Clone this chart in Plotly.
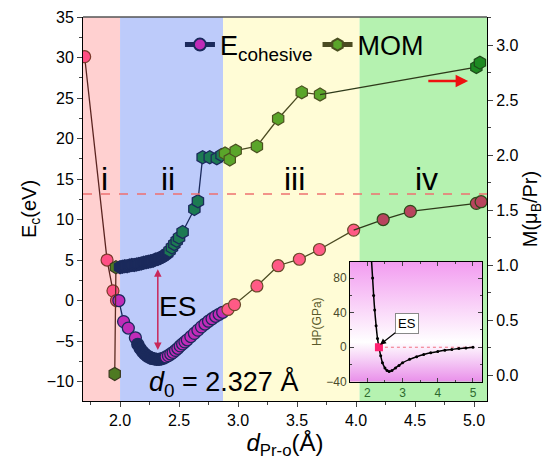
import plotly.graph_objects as go

# ---------------- data ----------------
ec_x = [1.70, 1.89, 1.94, 1.97, 1.99, 2.03, 2.07, 2.13,
        2.15, 2.17, 2.19, 2.21, 2.23, 2.25, 2.27, 2.29, 2.31, 2.33, 2.35, 2.37,
        2.39, 2.41, 2.43, 2.45, 2.47, 2.49, 2.51, 2.53, 2.55, 2.57, 2.60, 2.63,
        2.66, 2.69, 2.72, 2.75, 2.78, 2.81, 2.84, 2.87,
        2.915, 2.97, 3.16, 3.34, 3.52, 3.69, 3.98, 4.23, 4.46, 5.02, 5.06]
ec_y = [30.1, 5.0, 1.2, 0.0, 0.0, -2.6, -3.4, -4.6,
        -5.4, -5.9, -6.3, -6.6, -6.85, -7.0, -7.15, -7.2, -7.25, -7.25, -7.2, -7.1,
        -6.95, -6.8, -6.6, -6.4, -6.15, -5.9, -5.6, -5.35, -5.1, -4.85, -4.45, -4.05,
        -3.65, -3.25, -2.9, -2.55, -2.25, -1.95, -1.7, -1.45,
        -1.1, -0.5, 1.8, 4.3, 5.1, 6.3, 8.7, 10.0, 11.0, 12.0, 12.2]

mom_x = [1.955, 1.965, 2.00, 2.02, 2.04, 2.06, 2.08, 2.10, 2.12, 2.14, 2.16, 2.18,
         2.20, 2.22, 2.24, 2.26, 2.28, 2.30, 2.32, 2.34, 2.36, 2.38, 2.40,
         2.42, 2.44, 2.46, 2.48, 2.50, 2.53, 2.63, 2.66, 2.70, 2.76, 2.82, 2.86,
         2.89, 2.93, 2.98, 3.16, 3.34, 3.54, 3.695, 5.02, 5.05]
mom_y = [0.01, 0.98, 0.98, 0.985, 0.99, 0.99, 0.995, 1.0, 1.0, 1.005, 1.01, 1.015,
         1.02, 1.025, 1.03, 1.035, 1.04, 1.05, 1.055, 1.065, 1.075, 1.09, 1.105,
         1.13, 1.16, 1.19, 1.22, 1.25, 1.30, 1.51, 1.58, 1.98, 1.98, 1.97, 2.0,
         2.015, 1.96, 2.04, 2.08, 2.33, 2.57, 2.55, 2.80, 2.84]

hp_x = [2.12, 2.15, 2.18, 2.21, 2.25, 2.29, 2.33, 2.38, 2.43, 2.50, 2.56, 2.62,
        2.70, 2.80, 2.90, 3.00, 3.20, 3.40, 3.60, 3.80, 4.00, 4.20, 4.40, 4.60,
        4.80, 5.00]
hp_y = [100, 80, 60, 43, 25, 10, 0, -10, -18, -24, -27, -28,
        -27, -24, -21, -18, -14, -11, -8.5, -6.5, -5, -3.5, -2.5, -1.5,
        -0.8, 0]

region_edges = [1.686, 2.0, 2.873, 4.03, 5.11]
region_colors = ["#FFD0D0", "#BDCBFA", "#FFFCD6", "#B5F2B0"]
region_labels = ["i", "ii", "iii", "iv"]
region_label_x = [1.87, 2.41, 3.48, 4.60]

x_range = [1.686, 5.11]
y_range = [-12.4, 35]
y2_range = [-0.236, 3.255]
inset_x_range = [1.51, 5.26]
inset_y_range = [-40, 99]

cut_level = 13.15
d0 = 2.327
es_hp_x = 2.33

FONT = "Liberation Sans, Arial, sans-serif"
NAVY = "#1B2A5C"

fig = go.Figure()

# background regions
for i in range(4):
    fig.add_shape(type="rect", xref="x", yref="paper", x0=region_edges[i], x1=region_edges[i + 1],
                  y0=0, y1=1, fillcolor=region_colors[i], line_width=0, layer="below")

# dashed red line
fig.add_shape(type="line", xref="paper", yref="y", x0=0, x1=1, y0=cut_level, y1=cut_level,
              line=dict(color="#EE7070", width=1.5, dash="dash"))


def split(xs, ys, lo, hi, extra_prev=True):
    idx = [i for i, v in enumerate(xs) if lo <= v < hi]
    if not idx:
        return [], []
    if extra_prev and idx[0] > 0:
        idx = [idx[0] - 1] + idx
    return [xs[i] for i in idx], [ys[i] for i in idx]


# ---- E cohesive ----
px_, py_ = split(ec_x, ec_y, 0, 1.985, extra_prev=False)
px_.append(ec_x[len(px_)]); py_.append(ec_y[len(py_)])
fig.add_trace(go.Scatter(x=px_[:-1], y=py_[:-1], mode="lines+markers", showlegend=False,
                         line=dict(color="#5A2420", width=1.3),
                         marker=dict(size=12, color="#FF4F84", line=dict(color="#7A3A2A", width=1.2))))
fig.add_trace(go.Scatter(x=px_[-2:], y=py_[-2:], mode="lines", showlegend=False,
                         line=dict(color=NAVY, width=1.3)))
bx, by = split(ec_x, ec_y, 1.985, 2.88, extra_prev=False)
bcol = [NAVY if 2.14 < v < 2.375 else "#C02CB8" for v in bx]
fig.add_trace(go.Scatter(x=bx, y=by, mode="lines+markers", showlegend=False,
                         line=dict(color=NAVY, width=1.3),
                         marker=dict(size=12, color=bcol, line=dict(color=NAVY, width=1.3))))
yx, yy = split(ec_x, ec_y, 2.88, 4.1)
fig.add_trace(go.Scatter(x=yx[:2], y=yy[:2], mode="lines", showlegend=False,
                         line=dict(color="#4B4B22", width=1.3)))
fig.add_trace(go.Scatter(x=yx[1:], y=yy[1:], mode="lines+markers", showlegend=False,
                         line=dict(color="#4B4B22", width=1.3),
                         marker=dict(size=12, color="#FF5A86", line=dict(color="#6A4A2A", width=1.2))))
gx, gy = split(ec_x, ec_y, 4.1, 9)
fig.add_trace(go.Scatter(x=gx, y=gy, mode="lines", showlegend=False,
                         line=dict(color="#2E3A1A", width=1.3)))
fig.add_trace(go.Scatter(x=gx[1:], y=gy[1:], mode="markers", showlegend=False,
                         marker=dict(size=12, color="#B8445E", line=dict(color="#2E4A1A", width=1.2))))

# ---- MOM ----
mx, my = split(mom_x, mom_y, 0, 1.99, extra_prev=False)
fig.add_trace(go.Scatter(x=mom_x[:len(mx) + 1], y=mom_y[:len(my) + 1], mode="lines", yaxis="y2",
                         showlegend=False, line=dict(color="#5A2A20", width=1.3)))
fig.add_trace(go.Scatter(x=mx, y=my, mode="markers", yaxis="y2", showlegend=False,
                         marker=dict(symbol="hexagon", size=13, color="#4E7A22",
                                     line=dict(color="#3A3A20", width=1.2))))
bmx, bmy = split(mom_x, mom_y, 1.99, 2.875, extra_prev=False)
bmcol = [NAVY if v <= 2.40 else "#1C7A52" for v in bmx]
fig.add_trace(go.Scatter(x=bmx, y=bmy, mode="lines+markers", yaxis="y2", showlegend=False,
                         line=dict(color=NAVY, width=1.3),
                         marker=dict(symbol="hexagon", size=13, color=bmcol,
                                     line=dict(color=NAVY, width=1.3))))
ymx, ymy = split(mom_x, mom_y, 2.875, 4.1)
fig.add_trace(go.Scatter(x=ymx[:2], y=ymy[:2], mode="lines", yaxis="y2", showlegend=False,
                         line=dict(color="#4B4B22", width=1.3)))
fig.add_trace(go.Scatter(x=ymx[1:], y=ymy[1:], mode="lines+markers", yaxis="y2", showlegend=False,
                         line=dict(color="#4B4B22", width=1.3),
                         marker=dict(symbol="hexagon", size=13, color="#5AA52A",
                                     line=dict(color="#4A5020", width=1.2))))
gmx, gmy = split(mom_x, mom_y, 4.1, 9)
fig.add_trace(go.Scatter(x=gmx, y=gmy, mode="lines", yaxis="y2", showlegend=False,
                         line=dict(color="#2E3A1A", width=1.3)))
fig.add_trace(go.Scatter(x=gmx[1:], y=gmy[1:], mode="markers", yaxis="y2", showlegend=False,
                         marker=dict(symbol="hexagon", size=13, color="#1E8A22",
                                     line=dict(color="#1E4A1A", width=1.2))))

# legend-only entries
fig.add_trace(go.Scatter(x=[None], y=[None], mode="lines+markers", name="E<sub>cohesive</sub>",
                         line=dict(color=NAVY, width=1.3),
                         marker=dict(size=11, color="#C02CB8", line=dict(color=NAVY, width=1.3))))
fig.add_trace(go.Scatter(x=[None], y=[None], mode="lines+markers", name="MOM",
                         line=dict(color="#4B4B22", width=1.3),
                         marker=dict(symbol="hexagon", size=12, color="#5AA52A",
                                     line=dict(color="#4A5020", width=1.2))))

# ---- inset ----
fig.add_trace(go.Scatter(
    x=[inset_x_range[0], inset_x_range[1], inset_x_range[1], inset_x_range[0], inset_x_range[0]],
    y=[inset_y_range[0], inset_y_range[0], inset_y_range[1], inset_y_range[1], inset_y_range[0]],
    xaxis="x3", yaxis="y3", mode="none", fill="toself", showlegend=False, hoverinfo="skip",
    fillgradient=dict(type="vertical", start=inset_y_range[0], stop=inset_y_range[1],
                      colorscale=[[0, "#E98FEA"], [0.33, "#FFFFFF"], [1, "#F29CF0"]])))
fig.add_trace(go.Scatter(x=[es_hp_x, 5.0], y=[0, 0], xaxis="x3", yaxis="y3", mode="lines",
                         showlegend=False, line=dict(color="#F07080", width=1, dash="dot")))
fig.add_trace(go.Scatter(x=hp_x, y=hp_y, xaxis="x3", yaxis="y3", mode="lines+markers",
                         showlegend=False, line=dict(color="black", width=1.5, shape="spline"),
                         marker=dict(size=3, color="black")))
fig.add_trace(go.Scatter(x=[es_hp_x], y=[0], xaxis="x3", yaxis="y3", mode="markers",
                         showlegend=False, marker=dict(size=8, color="#FF2070", symbol="square")))

# ---- annotations ----
ann = []
for lab, lx in zip(region_labels, region_label_x):
    ann.append(dict(x=lx, y=15.0, xref="x", yref="y", text=lab, showarrow=False,
                    font=dict(family=FONT, size=32, color="black")))
ann.append(dict(x=2.49, y=-0.7, xref="x", yref="y", text="ES", showarrow=False,
                font=dict(family=FONT, size=28, color="black")))
ann.append(dict(x=2.32, y=-6.1, ax=2.32, ay=4.06, xref="x", yref="y", axref="x", ayref="y",
                text="", showarrow=True, arrowside="end+start", arrowhead=2, arrowsize=1,
                arrowwidth=1.5, arrowcolor="#C8285A"))
ann.append(dict(x=2.228, y=-10.2, xref="x", yref="y", xanchor="left", yanchor="middle",
                text="<i>d</i><sub>0</sub> = %.3f Å" % d0, showarrow=False,
                font=dict(family=FONT, size=27, color="black")))
ann.append(dict(x=4.95, y=27.1, ax=4.60, ay=27.1, xref="x", yref="y", axref="x", ayref="y",
                text="", showarrow=True, arrowhead=2, arrowsize=1, arrowwidth=2.5,
                arrowcolor="#EE1111"))
ann.append(dict(x=es_hp_x + 0.03, y=3, ax=3.12, ay=27, xref="x3", yref="y3", axref="x3", ayref="y3",
                text="ES", showarrow=True, arrowhead=2, arrowsize=1, arrowwidth=1.2,
                arrowcolor="black", bgcolor="white", bordercolor="#888888", borderwidth=1,
                borderpad=2, font=dict(family=FONT, size=13, color="black")))

fig.update_layout(
    width=542, height=463,
    margin=dict(l=75, r=63, t=9, b=70, autoexpand=False),
    plot_bgcolor="rgba(0,0,0,0)", paper_bgcolor="white",
    font=dict(family=FONT, color="black"),
    annotations=ann,
    legend=dict(orientation="h", x=0.24, y=0.927, xanchor="left", yanchor="middle",
                bgcolor="rgba(0,0,0,0)", font=dict(family=FONT, size=27),
                itemsizing="constant", tracegroupgap=0),
    xaxis=dict(range=x_range, tickvals=[2.0, 2.5, 3.0, 3.5, 4.0, 4.5, 5.0], tickformat=".1f",
               ticks="outside", ticklen=5, tickwidth=1, showline=True, linecolor="black",
               mirror=False, showgrid=False, zeroline=False, automargin=False,
               minor=dict(dtick=0.25, tick0=1.75, ticks="outside", ticklen=3),
               tickfont=dict(size=16),
               title=dict(text="<i>d</i><sub>Pr-o</sub>(Å)", font=dict(size=24), standoff=4)),
    yaxis=dict(range=y_range, tickvals=[-10, -5, 0, 5, 10, 15, 20, 25, 30, 35],
               ticks="outside", ticklen=5, showline=True, linecolor="black",
               showgrid=False, zeroline=False, automargin=False,
               minor=dict(dtick=2.5, tick0=0, ticks="outside", ticklen=3),
               tickfont=dict(size=16),
               title=dict(text="E<sub>c</sub>(eV)", font=dict(size=20), standoff=4)),
    yaxis2=dict(range=y2_range, overlaying="y", side="right", tickvals=[0, 0.5, 1.0, 1.5, 2.0, 2.5, 3.0],
                tickformat=".1f", ticks="outside", ticklen=5, showline=True, linecolor="black",
                showgrid=False, zeroline=False, automargin=False,
                minor=dict(dtick=0.25, tick0=0, ticks="outside", ticklen=3),
                tickfont=dict(size=16),
                title=dict(text="M(μ<sub>B</sub>/Pr)", font=dict(size=20), standoff=2)),
    xaxis3=dict(domain=[0.661, 0.988], anchor="y3", range=inset_x_range, tickvals=[2, 3, 4, 5],
                ticks="inside", ticklen=4, showline=True, linecolor="black", mirror="ticks",
                showgrid=False, zeroline=False, automargin=False,
                minor=dict(dtick=0.5, tick0=0, ticks="inside", ticklen=2),
                tickfont=dict(size=12, color="#2E6A2E")),
    yaxis3=dict(domain=[0.050, 0.3628], anchor="x3", range=inset_y_range, tickvals=[-40, 0, 40, 80],
                ticks="inside", ticklen=4, showline=True, linecolor="black", mirror="ticks",
                showgrid=False, zeroline=False, automargin=False,
                minor=dict(dtick=20, tick0=0, ticks="inside", ticklen=2),
                tickfont=dict(size=12, color="#4A4A2A"),
                title=dict(text="HP(GPa)", font=dict(size=12, color="#5A5A2A"), standoff=2)),
)

fig.add_shape(type="line", xref="paper", yref="paper", x0=0, x1=1, y0=1, y1=1,
              line=dict(color="#555555", width=1.5))

fig.write_html("out.html")
